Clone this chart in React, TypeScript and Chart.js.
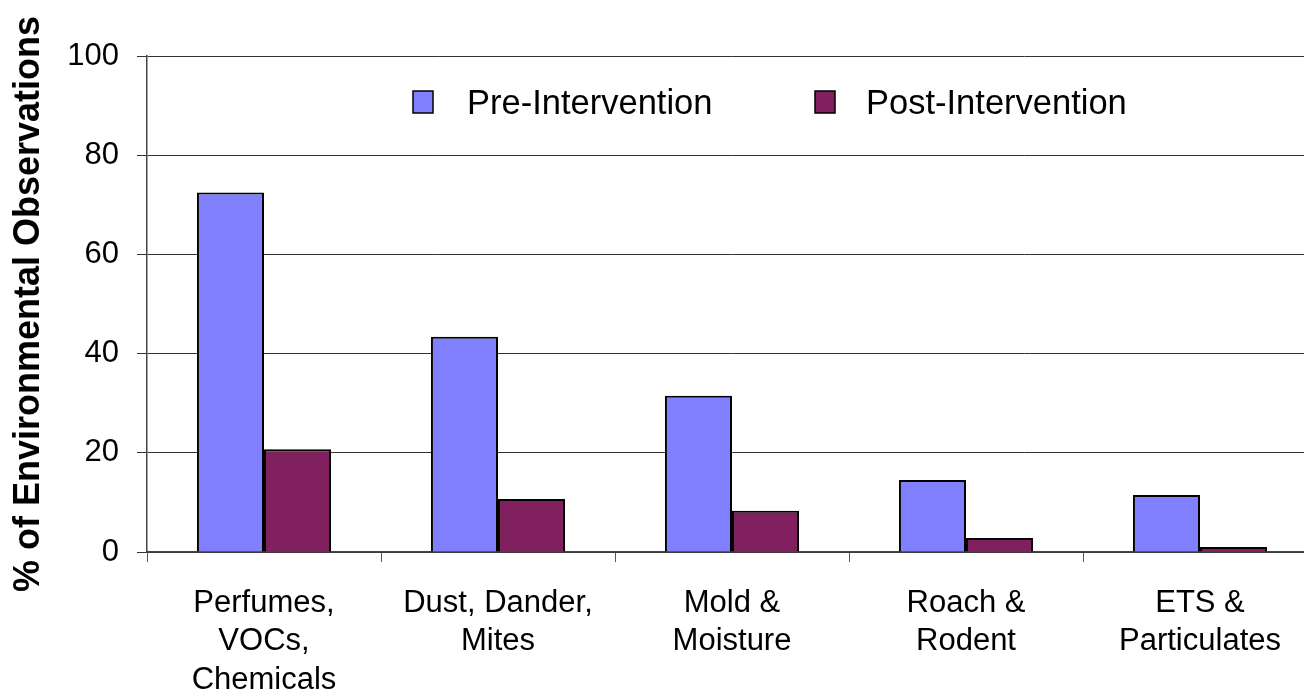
import React, { useEffect, useRef } from "react";
import { Chart, registerables } from "chart.js";

Chart.register(...registerables);

const categories: string[][] = [
  ["Perfumes,", "VOCs,", "Chemicals"],
  ["Dust, Dander,", "Mites"],
  ["Mold &", "Moisture"],
  ["Roach &", "Rodent"],
  ["ETS &", "Particulates"],
];
const seriesNames = ["Pre-Intervention", "Post-Intervention"];
const preValues = [72.5, 43.4, 31.5, 14.5, 11.5];
const postValues = [20.7, 10.7, 8.3, 2.8, 1.0];
const yTicks = [0, 20, 40, 60, 80, 100];
const yTitle = "% of Environmental Observations";

const FONT = "'Liberation Sans', Arial, sans-serif";
const PRE_COLOR = "#8080FF";
const POST_COLOR = "#80205F";

const legendPlugin = {
  id: "customLegend",
  afterDraw(chart: any) {
    const ctx = chart.ctx;
    const items = [
      { box: 413, text: 467 },
      { box: 815, text: 866 },
    ];
    ctx.save();
    chart.data.datasets.forEach((ds: any, i: number) => {
      const p = items[i];
      ctx.fillStyle = ds.backgroundColor;
      ctx.fillRect(p.box, 91, 20, 22);
      ctx.strokeStyle = "#000";
      ctx.lineWidth = 1.5;
      ctx.strokeRect(p.box, 91, 20, 22);
      ctx.fillStyle = "#000";
      ctx.font = `34.5px ${FONT}`;
      ctx.textBaseline = "middle";
      ctx.textAlign = "left";
      ctx.fillText(ds.label, p.text, 104);
    });
    ctx.restore();
  },
};

export default function App() {
  const ref = useRef<HTMLCanvasElement | null>(null);

  useEffect(() => {
    if (!ref.current) return;
    const chart = new Chart(ref.current, {
      type: "bar",
      data: {
        labels: categories,
        datasets: [
          {
            label: seriesNames[0],
            data: preValues,
            backgroundColor: PRE_COLOR,
            borderColor: "#000",
            borderWidth: 2,
            categoryPercentage: 0.573,
            barPercentage: 1,
          },
          {
            label: seriesNames[1],
            data: postValues,
            backgroundColor: POST_COLOR,
            borderColor: "#000",
            borderWidth: 2,
            categoryPercentage: 0.573,
            barPercentage: 1,
          },
        ],
      },
      options: {
        animation: false,
        responsive: true,
        maintainAspectRatio: false,
        layout: { padding: { top: 56, right: 13, left: 0, bottom: 0 } },
        plugins: {
          legend: { display: false },
          tooltip: { enabled: false },
        },
        scales: {
          x: {
            grid: {
              offset: true,
              drawOnChartArea: false,
              drawTicks: true,
              tickLength: 10,
              color: "#555",
            },
            border: { color: "#444", width: 1.5 },
            ticks: {
              color: "#000",
              font: { family: FONT, size: 31, lineHeight: 1.24 },
              padding: 22,
              maxRotation: 0,
              autoSkip: false,
            },
            afterFit(scale: any) {
              scale.height = 141;
            },
          },
          y: {
            min: 0,
            max: 100,
            afterBuildTicks(scale: any) {
              scale.ticks = yTicks.map((v) => ({ value: v }));
            },
            grid: {
              color: "#333",
              lineWidth: 1,
              drawTicks: true,
              tickLength: 10,
            },
            border: { color: "#444", width: 1.5 },
            ticks: {
              color: "#000",
              font: { family: FONT, size: 31 },
              padding: 18,
            },
            title: {
              display: true,
              text: yTitle,
              color: "#000",
              font: { family: FONT, size: 36, weight: "bold" },
              padding: { top: 7, bottom: 0 },
            },
            afterFit(scale: any) {
              scale.width = 147;
            },
          },
        },
      },
      plugins: [legendPlugin],
    });
    return () => chart.destroy();
  }, []);

  return (
    <div
      style={{
        position: "fixed",
        left: 0,
        top: 0,
        width: 1304,
        height: 693,
        overflow: "hidden",
        background: "#fff",
      }}
    >
      <div style={{ position: "relative", width: 1330, height: 693 }}>
        <canvas ref={ref} />
      </div>
    </div>
  );
}
